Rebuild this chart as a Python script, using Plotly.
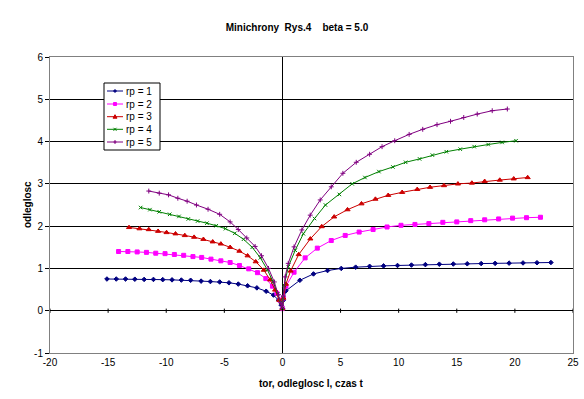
import plotly.graph_objects as go

# ---------------- data ----------------
series_names = ["rp = 1", "rp = 2", "rp = 3", "rp = 4", "rp = 5"]

x_rp1 = [-15.1, -14.3, -13.5, -12.7, -11.9, -11.1, -10.3, -9.5, -8.7, -7.9, -7.0, -6.2, -5.4, -4.6,
         -3.8, -3.0, -2.2, -1.4, -0.77, -0.34, -0.1, 0.0,
         0.08, 0.3, 1.5, 2.67, 3.88, 5.06, 6.3, 7.5, 8.7, 9.9, 11.1, 12.3, 13.5, 14.7, 15.9, 17.1,
         18.3, 19.5, 20.7, 21.9, 23.1]
y_rp1 = [0.75, 0.75, 0.75, 0.745, 0.74, 0.74, 0.735, 0.73, 0.725, 0.72, 0.70, 0.69, 0.68, 0.66,
         0.63, 0.59, 0.54, 0.46, 0.37, 0.25, 0.13, 0.05,
         0.25, 0.47, 0.72, 0.87, 0.95, 1.0, 1.03, 1.05, 1.06, 1.07, 1.08, 1.09, 1.10, 1.105, 1.11,
         1.115, 1.12, 1.125, 1.13, 1.135, 1.14]

x_rp2 = [-14.1, -13.3, -12.5, -11.7, -10.9, -10.1, -9.3, -8.5, -7.7, -6.95, -6.15, -5.3, -4.5, -3.7,
         -2.9, -2.15, -1.43, -0.86, -0.48, -0.2, 0.0,
         0.08, 0.3, 1.0, 1.95, 3.0, 4.2, 5.4, 6.6, 7.8, 9.0, 10.2, 11.4, 12.6, 13.8, 15.0, 16.2,
         17.4, 18.6, 19.8, 21.0, 22.2]
y_rp2 = [1.40, 1.40, 1.39, 1.38, 1.36, 1.35, 1.33, 1.31, 1.28, 1.26, 1.22, 1.18, 1.14, 1.07,
         0.99, 0.90, 0.76, 0.58, 0.41, 0.25, 0.05,
         0.30, 0.58, 0.91, 1.25, 1.48, 1.66, 1.78, 1.86, 1.92, 1.98, 2.02, 2.04, 2.06, 2.09, 2.10,
         2.13, 2.15, 2.17, 2.19, 2.20, 2.21]

x_rp3 = [-13.2, -12.3, -11.5, -10.7, -9.97, -9.2, -8.4, -7.6, -6.8, -6.0, -5.3, -4.5, -3.7, -3.0,
         -2.3, -1.6, -1.06, -0.63, -0.28, 0.0,
         0.08, 0.3, 0.7, 1.4, 2.4, 3.38, 4.45, 5.6, 6.8, 8.0, 9.1, 10.3, 11.6, 12.7, 13.9, 15.1,
         16.3, 17.4, 18.7, 19.9, 21.1]
y_rp3 = [1.97, 1.94, 1.92, 1.88, 1.85, 1.82, 1.78, 1.74, 1.69, 1.63, 1.58, 1.50, 1.41, 1.30,
         1.16, 0.96, 0.73, 0.49, 0.25, 0.05,
         0.30, 0.63, 0.94, 1.33, 1.70, 1.99, 2.22, 2.39, 2.53, 2.64, 2.73, 2.80, 2.87, 2.92, 2.96,
         3.0, 3.02, 3.06, 3.09, 3.12, 3.15]

x_rp4 = [-12.2, -11.4, -10.6, -9.7, -8.9, -8.1, -7.3, -6.5, -5.7, -4.9, -4.1, -3.35, -2.6, -1.9,
         -1.3, -0.8, -0.4, -0.15, 0.0,
         0.05, 0.15, 0.5, 1.1, 1.8, 2.76, 3.7, 4.9, 6.0, 7.1, 8.3, 9.5, 10.6, 11.8, 12.9, 14.1,
         15.3, 16.5, 17.7, 18.9, 20.1]
y_rp4 = [2.44, 2.39, 2.34, 2.28, 2.23, 2.17, 2.12, 2.07, 2.01, 1.94, 1.83, 1.69, 1.50, 1.25,
         0.97, 0.68, 0.40, 0.20, 0.05,
         0.30, 0.60, 1.04, 1.43, 1.82, 2.18, 2.50, 2.75, 3.0, 3.15, 3.29, 3.40, 3.51, 3.59, 3.68,
         3.76, 3.82, 3.88, 3.93, 3.98, 4.02]

x_rp5 = [-11.5, -10.6, -9.8, -9.0, -8.2, -7.4, -6.4, -5.4, -4.5, -3.8, -3.07, -2.35, -1.8, -1.2,
         -0.7, -0.34, -0.1, 0.0,
         0.08, 0.23, 0.5, 1.0, 1.67, 2.39, 3.25, 4.2, 5.2, 6.35, 7.5, 8.57, 9.66, 10.9, 12.07,
         13.3, 14.46, 15.6, 16.76, 18.05, 19.35]
y_rp5 = [2.83, 2.78, 2.74, 2.66, 2.59, 2.50, 2.40, 2.28, 2.10, 1.92, 1.72, 1.52, 1.30, 1.0,
         0.68, 0.38, 0.16, 0.05,
         0.35, 0.80, 1.12, 1.51, 1.91, 2.26, 2.62, 2.93, 3.25, 3.51, 3.70, 3.88, 4.02, 4.17, 4.29,
         4.40, 4.48, 4.57, 4.65, 4.73, 4.77]

x_ticks = [-20, -15, -10, -5, 0, 5, 10, 15, 20, 25]
y_ticks = [-1, 0, 1, 2, 3, 4, 5, 6]

title_text = "Minichrony  Rys.4    beta = 5.0"
x_title = "tor, odleglosc l, czas t"
y_title = "odleglosc"

# ---------------- styling ----------------
FONT = "Liberation Sans, Arial, sans-serif"
W, H = 584, 399
PL, PR, PT, PB = 50, 573, 57, 353   # plot area in pixels


def fx(px):
    return (px - PL) / (PR - PL)


def fy(py):
    return (PB - py) / (PB - PT)


colors = ["#000080", "#FF00FF", "#CC0000", "#008000", "#800080"]
symbols = ["diamond", "square", "triangle-up", "x-thin", "cross-thin"]
msizes = [3.5, 4, 4.5, 3.5, 3.5]

xs = [x_rp1, x_rp2, x_rp3, x_rp4, x_rp5]
ys = [y_rp1, y_rp2, y_rp3, y_rp4, y_rp5]

fig = go.Figure()
for name, x, y, c, s, ms in zip(series_names, xs, ys, colors, symbols, msizes):
    fig.add_trace(go.Scatter(
        x=x, y=y, name=name, mode="lines+markers",
        line=dict(color=c, width=1),
        marker=dict(symbol=s, size=ms, color=c, line=dict(color=c, width=1)),
        showlegend=False,
    ))

shapes = []
# small tick marks on the y=0 axis line
for t in x_ticks:
    shapes.append(dict(type="line", xref="x", yref="y", x0=t, x1=t, y0=-0.05, y1=0.05,
                       line=dict(color="black", width=1), layer="above"))

# custom legend box
LX0, LY0, LX1, LY1 = 104, 83, 160, 150
shapes.append(dict(type="rect", xref="paper", yref="paper",
                   x0=fx(LX0), x1=fx(LX1), y0=fy(LY1), y1=fy(LY0),
                   fillcolor="white", line=dict(color="black", width=1), layer="above"))
annotations = []
rows = [91, 104, 116.7, 129.3, 142]
for i, (name, c, py) in enumerate(zip(series_names, colors, rows)):
    shapes.append(dict(type="line", xref="paper", yref="paper",
                       x0=fx(107), x1=fx(123), y0=fy(py), y1=fy(py),
                       line=dict(color=c, width=1), layer="above"))
    mx = 115
    if i == 0:
        path = f"M{fx(mx-1.5)},{fy(py)} L{fx(mx)},{fy(py-1.5)} L{fx(mx+1.5)},{fy(py)} L{fx(mx)},{fy(py+1.5)} Z"
        shapes.append(dict(type="path", xref="paper", yref="paper", path=path,
                           fillcolor=c, line=dict(color=c, width=1), layer="above"))
    elif i == 1:
        shapes.append(dict(type="rect", xref="paper", yref="paper",
                           x0=fx(mx-1.5), x1=fx(mx+1.5), y0=fy(py+1.5), y1=fy(py-1.5),
                           fillcolor=c, line=dict(color=c, width=1), layer="above"))
    elif i == 2:
        path = f"M{fx(mx-2)},{fy(py+1.5)} L{fx(mx+2)},{fy(py+1.5)} L{fx(mx)},{fy(py-2)} Z"
        shapes.append(dict(type="path", xref="paper", yref="paper", path=path,
                           fillcolor=c, line=dict(color=c, width=1), layer="above"))
    elif i == 3:
        path = (f"M{fx(mx-1.5)},{fy(py-1.5)} L{fx(mx+1.5)},{fy(py+1.5)} "
                f"M{fx(mx-1.5)},{fy(py+1.5)} L{fx(mx+1.5)},{fy(py-1.5)}")
        shapes.append(dict(type="path", xref="paper", yref="paper", path=path,
                           line=dict(color=c, width=1), layer="above"))
    else:
        path = (f"M{fx(mx)},{fy(py-2)} L{fx(mx)},{fy(py+2)} "
                f"M{fx(mx-1.5)},{fy(py)} L{fx(mx+1.5)},{fy(py)}")
        shapes.append(dict(type="path", xref="paper", yref="paper", path=path,
                           line=dict(color=c, width=1), layer="above"))
    annotations.append(dict(text=name, xref="paper", yref="paper", x=fx(124), y=fy(py),
                            xanchor="left", yanchor="middle", showarrow=False,
                            font=dict(family=FONT, size=10, color="black")))

# axis titles
annotations.append(dict(text=f"<b>{x_title}</b>", xref="paper", yref="paper",
                        x=fx(311), y=fy(383), xanchor="center", yanchor="middle",
                        showarrow=False, font=dict(family=FONT, size=10, color="black")))
annotations.append(dict(text=f"<b>{y_title}</b>", xref="paper", yref="paper",
                        x=fx(27), y=fy(205), xanchor="center", yanchor="middle",
                        textangle=-90, showarrow=False,
                        font=dict(family=FONT, size=10, color="black")))

fig.update_layout(
    width=W, height=H,
    margin=dict(l=PL, r=W - PR, t=PT, b=H - PB, pad=0, autoexpand=False),
    paper_bgcolor="white", plot_bgcolor="white",
    font=dict(family=FONT, size=10, color="black"),
    title=dict(text=f"<b>{title_text}</b>", x=297 / W, xanchor="center",
               y=1 - 27 / H, yanchor="middle", yref="container",
               font=dict(family=FONT, size=10, color="black")),
    xaxis=dict(range=[-20, 25], tickvals=x_ticks, ticktext=[str(t) for t in x_ticks],
               showgrid=False, zeroline=True, zerolinecolor="black", zerolinewidth=1,
               showline=True, linecolor="#808080", linewidth=1, mirror=True,
               ticks="", automargin=False,
               tickfont=dict(family=FONT, size=10, color="black")),
    yaxis=dict(range=[-1, 6], tickvals=y_ticks, ticktext=[str(t) for t in y_ticks],
               showgrid=True, gridcolor="black", gridwidth=1,
               zeroline=True, zerolinecolor="black", zerolinewidth=1,
               showline=True, linecolor="#808080", linewidth=1, mirror=True,
               ticks="outside", ticklen=4, tickcolor="black", automargin=False,
               tickfont=dict(family=FONT, size=10, color="black")),
    shapes=shapes,
    annotations=annotations,
    showlegend=False,
)

fig.write_html("out.html",
               config={"displayModeBar": False},
               post_script="document.body.style.margin='0';document.body.style.padding='0';")
